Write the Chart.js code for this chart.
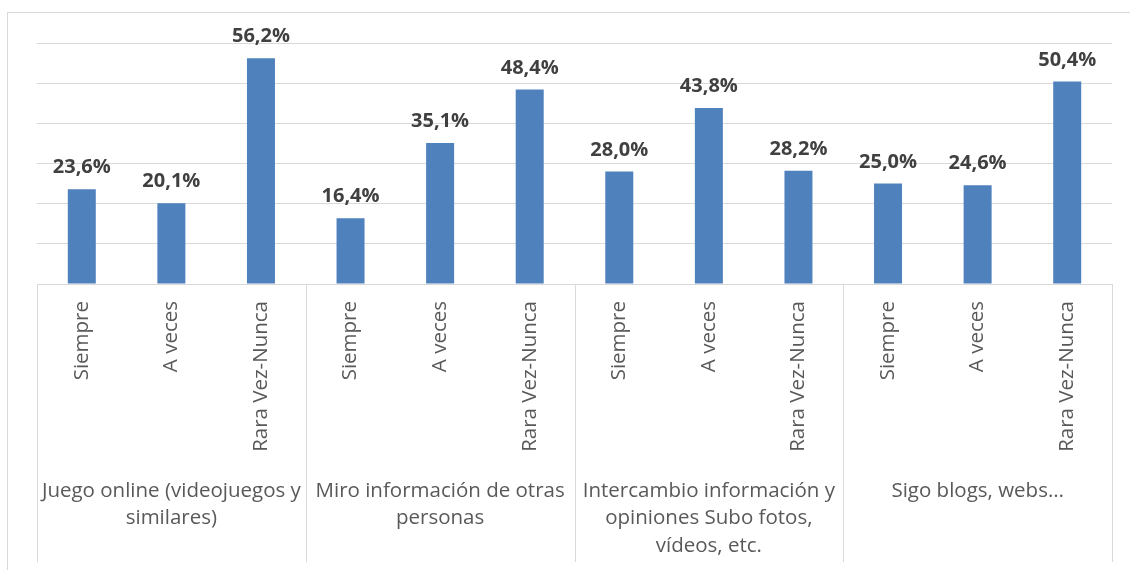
<!DOCTYPE html>
<html>
<head>
<meta charset="utf-8">
<script src="https://cdn.jsdelivr.net/npm/chart.js@4"></script>
<style>
  html, body { margin: 0; padding: 0; background: #ffffff; overflow: hidden; }
  #wrap { position: relative; width: 1130px; height: 570px; }
  #frame { position: absolute; left: 7px; top: 12px; width: 1140px; height: 600px; border: 1px solid #d9d9d9; box-sizing: border-box; }
  canvas { position: absolute; left: 0; top: 0; }
</style>
</head>
<body>
<div id="wrap">
  <div id="frame"></div>
  <canvas id="c" width="1130" height="570"></canvas>
</div>
<script>
const subLabels = ['Siempre', 'A veces', 'Rara Vez-Nunca'];
const groupLabels = [
  ['Juego online (videojuegos y', 'similares)'],
  ['Miro información de otras', 'personas'],
  ['Intercambio información y', 'opiniones Subo fotos,', 'vídeos, etc.'],
  ['Sigo blogs, webs…']
];
const values = [23.6, 20.1, 56.2, 16.4, 35.1, 48.4, 28.0, 43.8, 28.2, 25.0, 24.6, 50.4];
const yTicks = [0, 10, 20, 30, 40, 50, 60];

const categories = [];
groupLabels.forEach(() => subLabels.forEach(s => categories.push(s)));

const FONT = '"Open Sans", Lato, sans-serif';

const valueLabels = {
  id: 'valueLabels',
  afterDatasetsDraw(chart) {
    const ctx = chart.ctx;
    const meta = chart.getDatasetMeta(0);
    ctx.save();
    ctx.font = 'bold 20px ' + FONT;
    ctx.fillStyle = '#404040';
    ctx.textAlign = 'center';
    ctx.textBaseline = 'alphabetic';
    meta.data.forEach((bar, i) => {
      const txt = values[i].toFixed(1).replace('.', ',') + '%';
      ctx.fillText(txt, bar.x, bar.y - 16);
    });
    ctx.restore();
  }
};

const groupSeparators = {
  id: 'groupSeparators',
  afterDraw(chart) {
    const xs = chart.scales.x;
    const ctx = chart.ctx;
    const n = categories.length;
    const per = subLabels.length;
    ctx.save();
    ctx.strokeStyle = '#d9d9d9';
    ctx.lineWidth = 1;
    for (let i = 0; i <= n; i += per) {
      let px;
      if (i === 0) px = xs.left;
      else if (i === n) px = xs.right;
      else px = (xs.getPixelForValue(i - 1) + xs.getPixelForValue(i)) / 2;
      px = Math.round(px) + 0.5;
      ctx.beginPath();
      ctx.moveTo(px, chart.chartArea.bottom);
      ctx.lineTo(px, 562);
      ctx.stroke();
    }
    ctx.restore();
  }
};

new Chart(document.getElementById('c'), {
  type: 'bar',
  data: {
    labels: categories,
    datasets: [{
      data: values,
      backgroundColor: '#4F81BD',
      borderWidth: 0,
      barPercentage: 0.3125,
      categoryPercentage: 1.0,
      xAxisID: 'x',
      yAxisID: 'y'
    }]
  },
  options: {
    responsive: false,
    devicePixelRatio: 1,
    animation: false,
    events: [],
    layout: { padding: { left: 37, right: 18, top: 43, bottom: 0 } },
    plugins: { legend: { display: false }, tooltip: { enabled: false } },
    scales: {
      y: {
        min: 0, max: 60,
        afterBuildTicks: s => { s.ticks = yTicks.map(v => ({ value: v })); },
        ticks: { display: false },
        grid: { color: '#d9d9d9', lineWidth: 1, drawTicks: false },
        border: { display: false },
        afterFit: s => { s.width = 0; }
      },
      x: {
        type: 'category',
        position: 'bottom',
        weight: 1,
        grid: { display: false },
        border: { display: true, color: '#d9d9d9', width: 1 },
        ticks: {
          autoSkip: false,
          minRotation: 90,
          maxRotation: 90,
          padding: 9,
          color: '#595959',
          font: { family: FONT, size: 20.5 }
        },
        afterFit: s => { s.height = 180; }
      },
      x2: {
        type: 'category',
        position: 'bottom',
        weight: 2,
        labels: groupLabels,
        offset: true,
        grid: { display: false },
        border: { display: false },
        ticks: {
          autoSkip: false,
          maxRotation: 0,
          minRotation: 0,
          padding: 5,
          color: '#595959',
          font: { family: FONT, size: 20.5, lineHeight: 1.35 }
        },
        afterFit: s => { s.height = 106; }
      }
    }
  },
  plugins: [valueLabels, groupSeparators]
});
</script>
</body>
</html>
